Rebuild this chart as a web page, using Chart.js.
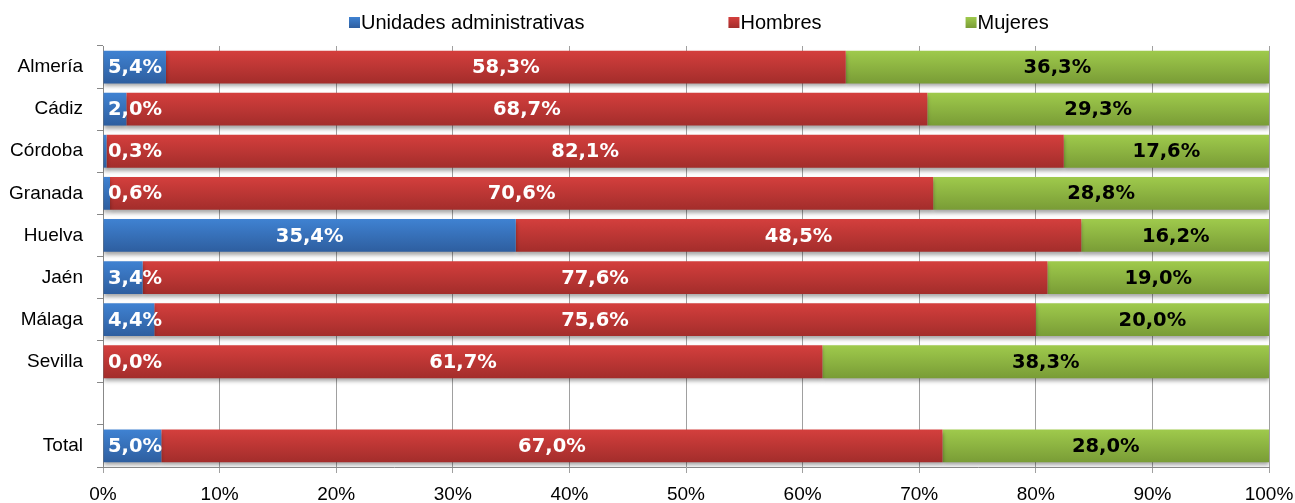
<!DOCTYPE html>
<html>
<head>
<meta charset="utf-8">
<script src="https://cdn.jsdelivr.net/npm/chart.js@4.4.0/dist/chart.umd.min.js"></script>
<style>
  body { margin: 0; background: #fff; }
  #graph { display: block; }
</style>
</head>
<body>
<canvas id="graph" width="1295" height="503"></canvas>
<script>
// Données (en %)
var provincias = ["Almería", "Cádiz", "Córdoba", "Granada", "Huelva", "Jaén", "Málaga", "Sevilla", "", "Total"];
var unidades = [5.4, 2.0, 0.3, 0.6, 35.4, 3.4, 4.4, 0.0, null, 5.0];
var hombres = [58.3, 68.7, 82.1, 70.6, 48.5, 77.6, 75.6, 61.7, null, 67.0];
var mujeres = [36.3, 29.3, 17.6, 28.8, 16.2, 19.0, 20.0, 38.3, null, 28.0];
var seriesNames = ["Unidades administrativas", "Hombres", "Mujeres"];
var xTicks = [0, 10, 20, 30, 40, 50, 60, 70, 80, 90, 100];

var barPct = 0.78;
var fontLabels = "'Liberation Sans', Arial, sans-serif";

//Dégradé vertical sur chaque barre, comme dans Excel
function degrade(ctx, haut, bas, base) {
    var chart = ctx.chart;
    if (!chart.chartArea || ctx.dataIndex === undefined || !chart.scales.y) {
        return base;
    }
    var y = chart.scales.y;
    var c = y.getPixelForValue(ctx.dataIndex);
    var h = (y.bottom - y.top) / provincias.length * barPct;
    var g = chart.ctx.createLinearGradient(0, c - h / 2, 0, c + h / 2);
    g.addColorStop(0, haut);
    g.addColorStop(1, bas);
    return g;
}

var couleurs = [
    { base: "#3a74c0", haut: "#3f82d2", bas: "#2e5e9f" },
    { base: "#c83a38", haut: "#d43f3d", bas: "#a32d2b" },
    { base: "#8fb843", haut: "#9fca4c", bas: "#799c36" }
];

function makeDataset(i, values) {
    var c = couleurs[i];
    return {
        label: seriesNames[i],
        data: values,
        backgroundColor: function(ctx) { return degrade(ctx, c.haut, c.bas, c.base); },
        borderWidth: 0,
        barPercentage: barPct,
        categoryPercentage: 1
    };
}

//Ombre sous les barres
var ombrePlugin = {
    id: "ombre",
    beforeDatasetsDraw: function(chart) {
        var ctx = chart.ctx;
        ctx.save();
        ctx.shadowColor = "rgba(0,0,0,0.35)";
        ctx.shadowBlur = 4;
        ctx.shadowOffsetY = 3;
    },
    afterDatasetsDraw: function(chart) {
        chart.ctx.restore();
    }
};

//Étiquettes de valeurs au centre des segments
var etiquettesPlugin = {
    id: "etiquettes",
    afterDatasetsDraw: function(chart) {
        var ctx = chart.ctx;
        var area = chart.chartArea;
        ctx.save();
        ctx.font = "bold 19.5px 'DejaVu Sans', Verdana, sans-serif";
        ctx.textBaseline = "middle";
        ctx.textAlign = "center";
        chart.data.datasets.forEach(function(ds, i) {
            var meta = chart.getDatasetMeta(i);
            meta.data.forEach(function(el, j) {
                var v = ds.data[j];
                if (v === null || v === undefined) return;
                var txt = v.toFixed(1).replace(".", ",") + "%";
                var w = ctx.measureText(txt).width;
                var x = (el.x + el.base) / 2;
                if (x - w / 2 < area.left + 5) x = area.left + 5 + w / 2;
                ctx.fillStyle = (i == 2) ? "#000000" : "#ffffff";
                ctx.fillText(txt, x, el.y + 1);
            });
        });
        ctx.restore();
    }
};

//Légende dessinée à la main pour garder les grands espacements
var legendePlugin = {
    id: "legende",
    afterDraw: function(chart) {
        var ctx = chart.ctx;
        ctx.save();
        ctx.font = "20px " + fontLabels;
        ctx.textBaseline = "middle";
        ctx.textAlign = "left";
        var x = 349;
        var yc = 22;
        chart.data.datasets.forEach(function(ds, i) {
            var c = couleurs[i];
            var g = ctx.createLinearGradient(0, yc - 5, 0, yc + 6);
            g.addColorStop(0, c.haut);
            g.addColorStop(1, c.bas);
            ctx.fillStyle = g;
            ctx.fillRect(x, yc - 5, 11, 11);
            ctx.fillStyle = "#000000";
            ctx.fillText(ds.label, x + 12, yc + 1);
            x += 12 + ctx.measureText(ds.label).width + 144;
        });
        ctx.restore();
    }
};

var ctx = document.getElementById("graph").getContext("2d");
window.myChart = new Chart(ctx, {
    type: "bar",
    data: {
        labels: provincias,
        datasets: [makeDataset(0, unidades), makeDataset(1, hombres), makeDataset(2, mujeres)]
    },
    options: {
        indexAxis: "y",
        responsive: false,
        animation: false,
        layout: { padding: { top: 46, right: 26, left: 0, bottom: 0 } },
        plugins: {
            legend: { display: false },
            tooltip: { enabled: false }
        },
        scales: {
            x: {
                stacked: true,
                min: 0,
                max: 100,
                afterBuildTicks: function(scale) {
                    scale.ticks = xTicks.map(function(v) { return { value: v }; });
                },
                ticks: {
                    color: "#000000",
                    font: { family: fontLabels, size: 19 },
                    padding: 10,
                    callback: function(v) { return v + "%"; }
                },
                grid: { color: "#a0a0a0", tickLength: 6, lineWidth: 1 },
                border: { color: "#888888" },
                afterFit: function(scale) {
                    scale.height = 36;
                    scale.paddingRight = 0;
                    scale.paddingLeft = 0;
                }
            },
            y: {
                stacked: true,
                ticks: {
                    color: "#000000",
                    font: { family: fontLabels, size: 19 },
                    padding: 14
                },
                grid: { offset: true, drawOnChartArea: false, tickLength: 6, color: "#888888" },
                border: { color: "#888888" },
                afterFit: function(scale) { scale.width = 103; }
            }
        }
    },
    plugins: [ombrePlugin, etiquettesPlugin, legendePlugin]
});
</script>
</body>
</html>
